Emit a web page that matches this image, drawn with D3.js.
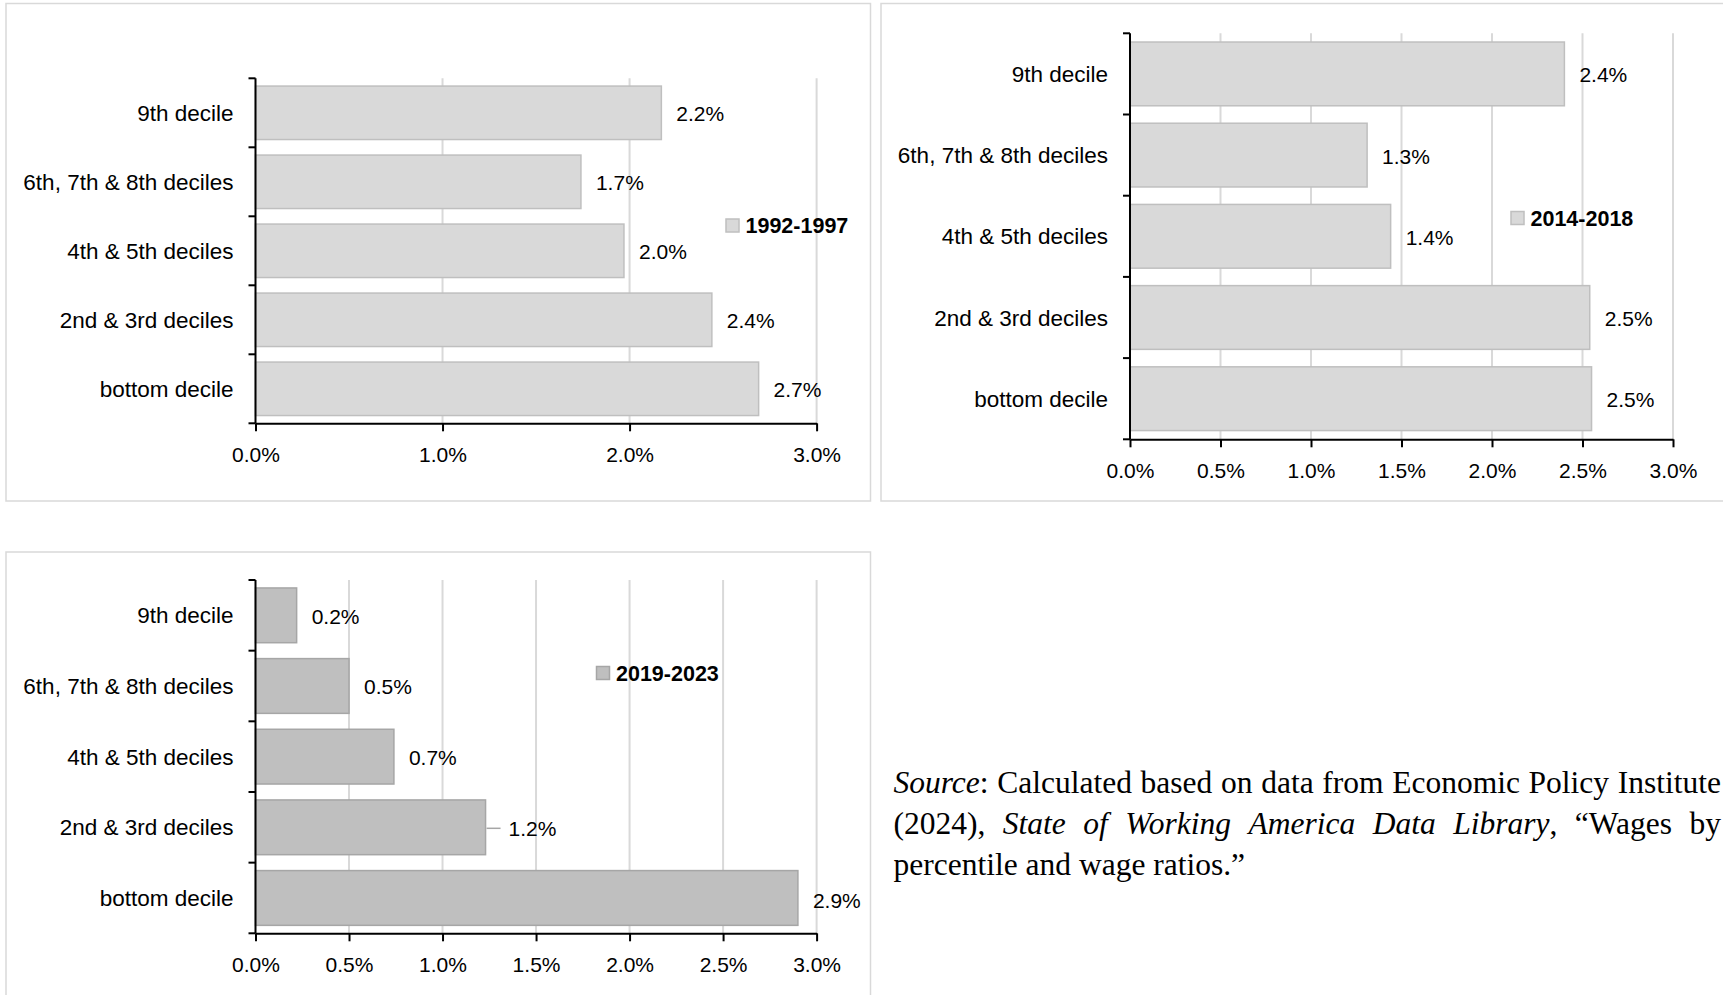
<!DOCTYPE html>
<html>
<head>
<meta charset="utf-8">
<script src="https://cdn.jsdelivr.net/npm/d3@7"></script>
<style>
html, body { margin: 0; padding: 0; background: #ffffff; }
svg { display: block; }
</style>
</head>
<body>
<svg id="chart" width="1723" height="995"></svg>
<script>
// ---------------- DATA ----------------
const categories = ["9th decile", "6th, 7th & 8th deciles", "4th & 5th deciles", "2nd & 3rd deciles", "bottom decile"];
const seriesNames = ["1992-1997", "2014-2018", "2019-2023"];
const values1992 = [2.17, 1.74, 1.97, 2.44, 2.69];
const values2014 = [2.40, 1.31, 1.44, 2.54, 2.55];
const values2019 = [0.22, 0.50, 0.74, 1.23, 2.90];
const labels1992 = ["2.2%", "1.7%", "2.0%", "2.4%", "2.7%"];
const labels2014 = ["2.4%", "1.3%", "1.4%", "2.5%", "2.5%"];
const labels2019 = ["0.2%", "0.5%", "0.7%", "1.2%", "2.9%"];
const ticksWhole = [0, 1, 2, 3];
const ticksHalf = [0, 0.5, 1, 1.5, 2, 2.5, 3];
const xDomain = [0, 3];
const sourceLine1 = [[["Source", true], [":", false]], [["Calculated", false]], [["based", false]], [["on", false]], [["data", false]], [["from", false]], [["Economic", false]], [["Policy", false]], [["Institute", false]]];
const sourceLine2 = [[["(2024),", false]], [["State", true]], [["of", true]], [["Working", true]], [["America", true]], [["Data", true]], [["Library", true], [",", false]], [["\u201CWages", false]], [["by", false]]];
const sourceLine3 = [[["percentile", false]], [["and", false]], [["wage", false]], [["ratios.\u201D", false]]];

// ---------------- LAYOUT ----------------
const SANS = "'Liberation Sans', Arial, sans-serif";
const SERIF = "'Liberation Serif', 'Times New Roman', serif";
const svg = d3.select("#chart");

const panels = [
  { name: seriesNames[0], values: values1992, labels: labels1992, ticks: ticksWhole,
    frame: [6, 3.5, 870.5, 501], xr: [255.5, 816.6], yr: [78.3, 423.3],
    fill: "#d9d9d9", stroke: "#bfbfbf", legend: [726, 219], pad: 0.225 },
  { name: seriesNames[1], values: values2014, labels: labels2014, ticks: ticksHalf,
    frame: [881, 3.5, 1760, 501], xr: [1130, 1673], yr: [33.3, 439.3],
    fill: "#d9d9d9", stroke: "#bfbfbf", legend: [1511, 211.5], pad: 0.215 },
  { name: seriesNames[2], values: values2019, labels: labels2019, ticks: ticksHalf,
    frame: [6, 552, 870.5, 1030], xr: [255.5, 816.6], yr: [580, 933.3],
    fill: "#bfbfbf", stroke: "#a6a6a6", legend: [596.5, 666.5], pad: 0.225 }
];

panels.forEach((p, pi) => {
  const g = svg.append("g");
  // frame
  g.append("rect")
    .attr("x", p.frame[0]).attr("y", p.frame[1])
    .attr("width", p.frame[2] - p.frame[0]).attr("height", p.frame[3] - p.frame[1])
    .attr("fill", "#fff").attr("stroke", "#d9d9d9").attr("stroke-width", 1.5);

  const x = d3.scaleLinear().domain(xDomain).range(p.xr);
  const y = d3.scaleBand().domain(categories).range(p.yr)
    .paddingInner(p.pad).paddingOuter(p.pad / 2);

  // gridlines
  g.append("g").selectAll("line")
    .data(p.ticks.filter(t => t > 0))
    .join("line")
    .attr("x1", d => x(d)).attr("x2", d => x(d))
    .attr("y1", p.yr[0]).attr("y2", p.yr[1])
    .attr("stroke", "#d9d9d9").attr("stroke-width", 2);

  // bars
  g.append("g").selectAll("rect")
    .data(p.values)
    .join("rect")
    .attr("x", x(0))
    .attr("y", (d, i) => y(categories[i]))
    .attr("width", d => x(d) - x(0))
    .attr("height", y.bandwidth())
    .attr("fill", p.fill)
    .attr("stroke", p.stroke)
    .attr("stroke-width", 1.5);

  // value labels
  const lab = g.append("g");
  p.values.forEach((v, i) => {
    const cy = y(categories[i]) + y.bandwidth() / 2;
    let dx = 15;
    if (pi === 2 && i === 3) {
      // label nudged right with a leader line
      dx = 23;
      lab.append("line")
        .attr("x1", x(v) + 1).attr("x2", x(v) + 15)
        .attr("y1", cy + 1).attr("y2", cy + 1)
        .attr("stroke", "#a6a6a6").attr("stroke-width", 1.5);
    }
    lab.append("text")
      .attr("x", x(v) + dx)
      .attr("y", cy + (pi === 2 && i === 4 ? 3 : 1))
      .attr("dominant-baseline", "central")
      .attr("font-family", SANS).attr("font-size", 21)
      .attr("fill", "#000")
      .text(p.labels[i]);
  });

  // x axis
  const xa = g.append("g")
    .attr("transform", `translate(0,${p.yr[1]})`)
    .call(d3.axisBottom(x).tickValues(p.ticks).tickSize(8).tickSizeOuter(0)
      .tickPadding(15.5).tickFormat(d => d.toFixed(1) + "%"));
  xa.select(".domain").attr("stroke", "#000").attr("stroke-width", 2);
  xa.selectAll(".tick line").attr("stroke", "#000").attr("stroke-width", 2);
  xa.selectAll(".tick text").attr("font-family", SANS).attr("font-size", 21).attr("fill", "#000");

  // y axis (Excel style: ticks at category boundaries)
  const ya = g.append("g");
  ya.append("line")
    .attr("x1", x(0)).attr("x2", x(0))
    .attr("y1", p.yr[0]).attr("y2", p.yr[1])
    .attr("stroke", "#000").attr("stroke-width", 2);
  const bounds = d3.range(categories.length + 1).map(i => p.yr[0] + i * y.step());
  ya.selectAll("line.tk").data(bounds).join("line").attr("class", "tk")
    .attr("x1", x(0) - 7).attr("x2", x(0))
    .attr("y1", d => d).attr("y2", d => d)
    .attr("stroke", "#000").attr("stroke-width", 2);
  ya.selectAll("text").data(categories).join("text")
    .attr("x", x(0) - 22)
    .attr("y", d => y(d) + y.bandwidth() / 2 + 0.5)
    .attr("text-anchor", "end")
    .attr("dominant-baseline", "central")
    .attr("font-family", SANS).attr("font-size", 22.5).attr("fill", "#000")
    .text(d => d);

  // legend
  const lg = g.append("g");
  lg.append("rect")
    .attr("x", p.legend[0]).attr("y", p.legend[1])
    .attr("width", 13).attr("height", 13)
    .attr("fill", p.fill).attr("stroke", p.stroke).attr("stroke-width", 1.5);
  lg.append("text")
    .attr("x", p.legend[0] + 19.5)
    .attr("y", p.legend[1] + 7)
    .attr("dominant-baseline", "central")
    .attr("font-family", SANS).attr("font-size", 21.5).attr("font-weight", "bold")
    .attr("fill", "#000")
    .text(p.name);
});

// ---------------- SOURCE NOTE ----------------
const srcG = svg.append("g");
const FS = 31.5;
function drawLine(words, x0, x1, yb, justify) {
  const t = srcG.append("text").attr("y", yb)
    .attr("font-family", SERIF).attr("font-size", FS).attr("fill", "#000");
  const wordEls = words.map(w => w.map(s => t.append("tspan")
    .attr("font-style", s[1] ? "italic" : "normal").text(s[0])));
  const widths = wordEls.map(segs => d3.sum(segs, s => s.node().getComputedTextLength()));
  const gap = justify ? (x1 - x0 - d3.sum(widths)) / (words.length - 1) : FS * 0.25;
  let xx = x0;
  wordEls.forEach((segs, i) => { segs[0].attr("x", xx); xx += widths[i] + gap; });
}
drawLine(sourceLine1, 893.5, 1721, 793, true);
drawLine(sourceLine2, 893.5, 1721, 834, true);
drawLine(sourceLine3, 893.5, 1721, 875, false);
</script>
</body>
</html>
